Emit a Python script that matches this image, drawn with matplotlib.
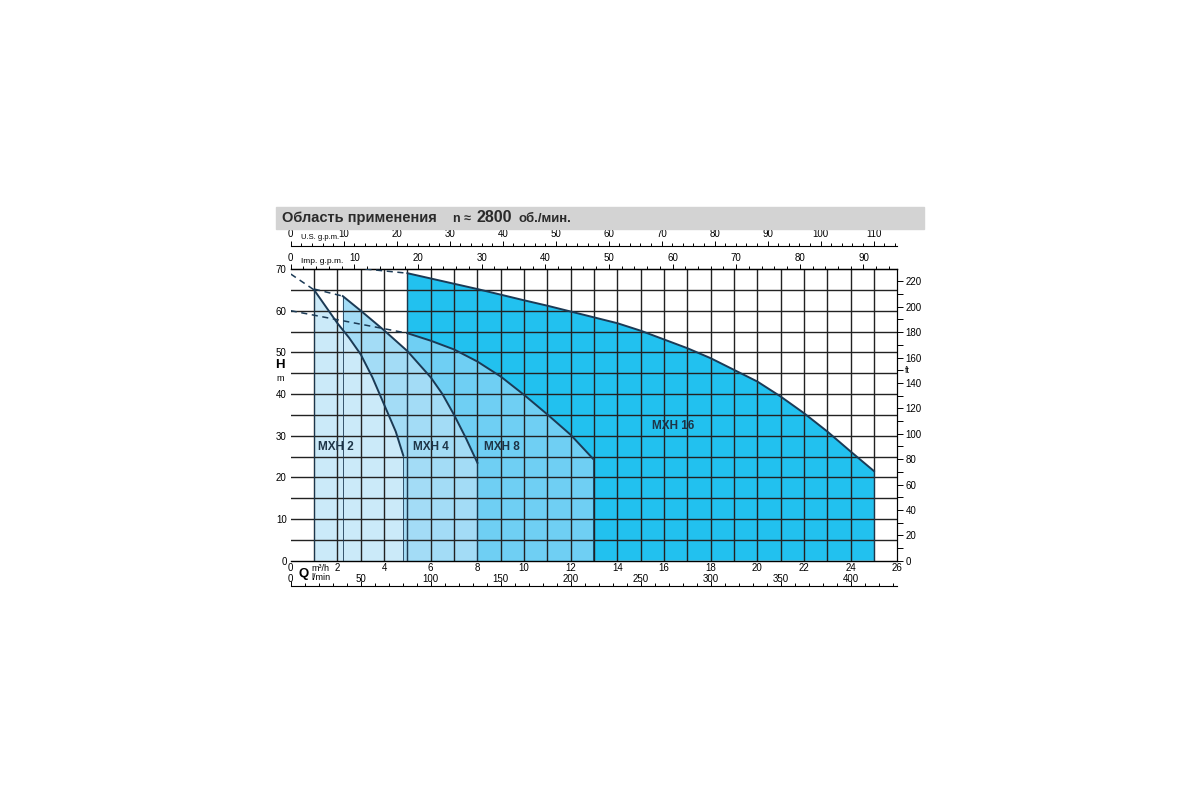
import matplotlib.pyplot as plt
import numpy as np
from matplotlib.patches import Rectangle
from matplotlib.ticker import MultipleLocator


plt.rcParams['font.family'] = ['Liberation Sans', 'DejaVu Sans']

US_GPM = 4.4029
IMP_GPM = 3.6662
LPM = 16.6667
FT = 3.2808

LINE_COLOR = '#1b3a55'
GRID_COLOR = '#222222'

# pump curves, Q in m3/h, H in m
mxh16_q = [5.0, 8.0, 10.0, 11.0, 12.0, 13.0, 14.0, 15.0, 16.0, 17.0, 18.0, 19.0, 20.0, 21.0, 22.0, 23.0, 24.0, 25.0]
mxh16_h = [69.0, 65.2, 62.5, 61.2, 59.8, 58.4, 57.0, 55.2, 53.1, 51.0, 48.6, 45.8, 43.0, 39.4, 35.4, 31.0, 26.2, 21.5]

mxh8_q = [5.0, 6.0, 7.0, 8.0, 9.0, 10.0, 11.0, 12.0, 12.95]
mxh8_h = [54.6, 52.8, 50.7, 47.8, 44.2, 39.8, 35.1, 30.2, 24.5]

mxh4_q = [2.23, 3.0, 4.0, 5.0, 6.0, 6.5, 7.0, 7.5, 8.0]
mxh4_h = [63.5, 60.0, 55.3, 50.3, 44.0, 40.0, 35.0, 29.5, 23.5]

mxh2_q = [1.0, 1.5, 2.0, 2.5, 3.0, 3.5, 4.0, 4.5, 4.82]
mxh2_h = [65.0, 61.0, 57.0, 53.5, 49.5, 44.0, 37.5, 31.0, 25.3]

# dashed extensions to the left of each curve
dash_mxh16_q = [3.2, 5.0]
dash_mxh16_h = [70.0, 69.0]
dash_mxh8_q = [0.0, 5.0]
dash_mxh8_h = [60.0, 54.6]
dash_mxh4_q = [1.0, 2.23]
dash_mxh4_h = [65.2, 63.5]
dash_mxh2_q = [0.0, 1.0]
dash_mxh2_h = [68.8, 65.0]

pump_names = ['MXH 16', 'MXH 8', 'MXH 4', 'MXH 2']
pump_colors = ['#22c1ef', '#6fcff3', '#a3dcf6', '#cbeaf9']
label_q = [16.4, 9.05, 6.0, 1.95]
label_h = [32.3, 27.4, 27.4, 27.4]

q_ticks = list(range(0, 27, 2))
h_ticks = list(range(0, 71, 10))
ft_ticks = list(range(0, 221, 20))
us_ticks = list(range(0, 111, 10))
imp_ticks = list(range(0, 91, 10))
lpm_ticks = list(range(0, 401, 50))


def draw_pump(ax, q, h, color):
    xs = [q[0]] + q + [q[-1]]
    ys = [0] + h + [0]
    ax.fill(xs, ys, color=color, lw=0, zorder=1)
    ax.plot([q[0], q[0]], [0, h[0]], color=LINE_COLOR, lw=0.6, zorder=3)
    ax.plot([q[-1], q[-1]], [0, h[-1]], color=LINE_COLOR, lw=0.6, zorder=3)
    ax.plot(q, h, color=LINE_COLOR, lw=1.4, zorder=3)


def draw_dash(ax, q, h):
    ax.plot(q, h, color=LINE_COLOR, lw=1.1, ls=(0, (4, 3)), zorder=3)


fig = plt.figure(figsize=(12, 8), dpi=100)
ax = fig.add_axes([0.2423, 0.2991, 0.5055, 0.3646])
ax.set_xlim(0, 26)
ax.set_ylim(0, 70)

curves = [(mxh16_q, mxh16_h), (mxh8_q, mxh8_h), (mxh4_q, mxh4_h), (mxh2_q, mxh2_h)]
for (q, h), color in zip(curves, pump_colors):
    draw_pump(ax, q, h, color)

draw_dash(ax, dash_mxh16_q, dash_mxh16_h)
draw_dash(ax, dash_mxh8_q, dash_mxh8_h)
draw_dash(ax, dash_mxh4_q, dash_mxh4_h)
draw_dash(ax, dash_mxh2_q, dash_mxh2_h)

for x in range(1, 26):
    ax.axvline(x, color=GRID_COLOR, lw=1.0, zorder=2)
for y in range(5, 70, 5):
    ax.axhline(y, color=GRID_COLOR, lw=1.0, zorder=2)

for name, x, y in zip(pump_names, label_q, label_h):
    ax.text(x, y, name, fontsize=8.5, fontweight='bold', color='#1e3548',
            ha='center', va='center', zorder=4)

# main axes: m3/h and m
ax.spines['left'].set_visible(False)
ax.spines['right'].set_linewidth(0.8)
ax.spines['top'].set_linewidth(1.0)
ax.spines['bottom'].set_linewidth(1.0)
ax.set_xticks(q_ticks)
ax.set_yticks(h_ticks)
ax.tick_params(axis='x', length=0, pad=2, labelsize=7)
ax.tick_params(axis='y', length=0, pad=3, labelsize=7)

ax.text(0.9, -0.028, 'm³/h', transform=ax.get_xaxis_transform(), fontsize=6.5, va='center')
ax.text(0.9, -0.058, 'l/min', transform=ax.get_xaxis_transform(), fontsize=6.5, va='center')
ax.text(0.55, -0.045, 'Q', transform=ax.get_xaxis_transform(), fontsize=9.5,
        fontweight='bold', ha='center', va='center')
ax.text(-0.0175, 47.0, 'H', transform=ax.get_yaxis_transform(), fontsize=9.5,
        fontweight='bold', ha='center', va='center')
ax.text(-0.0175, 43.8, 'm', transform=ax.get_yaxis_transform(), fontsize=6.5,
        ha='center', va='center')

# right: ft
ft_ax = ax.secondary_yaxis('right', functions=(lambda m: m * FT, lambda f: f / FT))
ft_ax.set_yticks(ft_ticks)
ft_ax.yaxis.set_minor_locator(MultipleLocator(10))
ft_ax.tick_params(which='major', length=4, width=0.7, pad=2, labelsize=7)
ft_ax.tick_params(which='minor', length=4, width=0.7)
ft_ax.spines['right'].set_linewidth(0.8)
ax.text(1.012, 150 / FT, 'ft', transform=ax.get_yaxis_transform(), fontsize=6.5, va='center')

# top: Imp. g.p.m. on the frame, U.S. g.p.m. above it
imp_ax = ax.secondary_xaxis('top', functions=(lambda q: q * IMP_GPM, lambda g: g / IMP_GPM))
imp_ax.set_xticks(imp_ticks)
imp_ax.xaxis.set_minor_locator(MultipleLocator(2))
imp_ax.tick_params(which='major', length=3.5, width=0.7, pad=1, labelsize=7)
imp_ax.tick_params(which='minor', length=2, width=0.7)
ax.text(0.43, 1.027, 'Imp. g.p.m.', transform=ax.get_xaxis_transform(), fontsize=6, va='center')

us_ax = ax.secondary_xaxis(1.08, functions=(lambda q: q * US_GPM, lambda g: g / US_GPM))
us_ax.set_xticks(us_ticks)
us_ax.xaxis.set_minor_locator(MultipleLocator(2))
us_ax.tick_params(which='major', length=3.5, width=0.7, pad=1, labelsize=7)
us_ax.tick_params(which='minor', length=2, width=0.7)
us_ax.spines['top'].set_linewidth(0.8)
ax.text(0.42, 1.107, 'U.S. g.p.m.', transform=ax.get_xaxis_transform(), fontsize=5.5, va='center')

# bottom: l/min
lpm_ax = ax.secondary_xaxis(-0.087, functions=(lambda q: q * LPM, lambda l: l / LPM))
lpm_ax.set_xticks(lpm_ticks)
lpm_ax.xaxis.set_minor_locator(MultipleLocator(10))
lpm_ax.tick_params(which='major', direction='in', length=3.5, width=0.7, pad=-8.5, labelsize=7)
lpm_ax.tick_params(which='minor', direction='in', length=2, width=0.7)
lpm_ax.spines['bottom'].set_linewidth(0.8)

# title bar
fig.patches.append(Rectangle((0.23, 0.71375), 0.54, 0.0275, transform=fig.transFigure,
                             color='#d3d3d3', zorder=0))
fig.text(0.235, 0.7275, 'Область применения', fontsize=10.5, fontweight='bold',
         color='#2a2a2a', va='center')
fig.text(0.3772, 0.7265, 'n ≈', fontsize=9, fontweight='bold', color='#2a2a2a', va='center')
fig.text(0.3972, 0.7275, '2800', fontsize=11.5, fontweight='bold', color='#2a2a2a', va='center')
fig.text(0.4319, 0.7265, 'об./мин.', fontsize=9.5, fontweight='bold', color='#2a2a2a', va='center')

fig.savefig('out.png', dpi=100)
